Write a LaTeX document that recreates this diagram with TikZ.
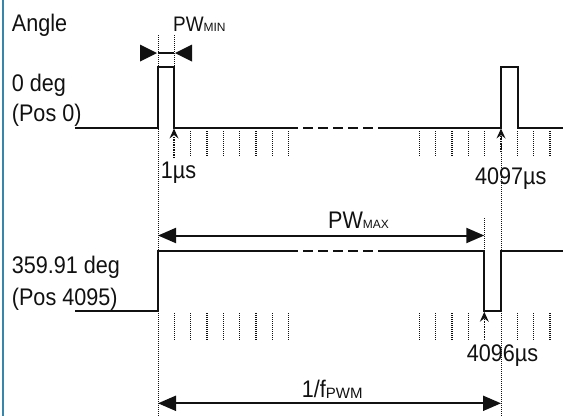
\documentclass[tikz,border=0pt]{standalone}
\usepackage{fontspec}
\setmainfont{Liberation Sans}
\newfontfamily\labfont{Liberation Sans}[FakeStretch=0.9]
\newfontfamily\subfont{Liberation Sans}
\usetikzlibrary{arrows.meta}
\definecolor{blueline}{HTML}{3A86A8}
\definecolor{ink}{HTML}{111111}
\begin{document}
\begin{tikzpicture}[x=1pt,y=-1pt,
  sig/.style={ink,line width=2pt,line join=miter},
  dashsig/.style={ink,line width=2pt,dash pattern=on 10pt off 5pt},
  guide/.style={ink,line width=1pt,dash pattern=on 1pt off 1pt},
  tickline/.style={ink,line width=1.1pt,dash pattern=on 1pt off 1pt},
  lab/.style={anchor=base west,inner sep=0pt,text=ink,font=\labfont\fontsize{24}{24}\selectfont},
  bigarrow/.style={ink,line width=2pt,{Triangle[length=18pt,width=15pt]}-{Triangle[length=18pt,width=15pt]}},
  shaft/.style={ink,line width=1.6pt,dash pattern=on 1.5pt off 1pt}
]
\useasboundingbox (0,0) rectangle (563,416);
% left border line
\draw[blueline,line width=2pt] (3,0) -- (3,416);

% long guide lines
\draw[guide] (158,35) -- (158,416);
\draw[guide] (174,35) -- (174,67);
\draw[guide] (501,137) -- (501,416);
\draw[guide] (484.3,218) -- (484.3,250.5);

% Row 1 signal
\draw[sig] (75,127.7) -- (158,127.7) -- (158,67) -- (174,67) -- (174,127.7) -- (288,127.7);
\draw[dashsig] (288,127.7) -- (386.7,127.7);
\draw[sig] (386.7,127.7) -- (501,127.7) -- (501,67) -- (517.7,67) -- (517.7,127.7) -- (563,127.7);

% Row 2 signal
\draw[sig] (75,311) -- (158,311) -- (158,250.5) -- (288,250.5);
\draw[dashsig] (288,250.5) -- (386.7,250.5);
\draw[sig] (386.7,250.5) -- (484.3,250.5) -- (484.3,311) -- (501,311) -- (501,250.5) -- (563,250.5);

% ticks row 1
\foreach \k in {2,...,8,16,17,18,19,20,22,23,24}
  \draw[tickline] ({158+\k*16.333},131) -- ++(0,26);
% ticks row 2
\foreach \k in {1,...,8,16,17,18,19,22,23,24}
  \draw[tickline] ({158+\k*16.333},313) -- ++(0,27);

% up arrows: dotted shafts and filled heads
\foreach \x/\t/\b in {174/128.5/158, 501/128.5/152, 484.3/311.8/340}{
  \draw[shaft] (\x,\b) -- (\x,\t+7);
  \fill[ink] (\x,\t) -- (\x+4.5,\t+10) -- (\x,\t+6.5) -- (\x-4.5,\t+10) -- cycle;
}

% PW_MIN marker
\draw[ink,line width=1.5pt] (158,53) -- (174,53);
\fill[ink] (140,44.5) -- (157,53) -- (140,61.5) -- cycle;
\fill[ink] (192,44.5) -- (175,53) -- (192,61.5) -- cycle;

% PW_MAX and period arrows
\coordinate (mxa) at (158,235.5);
\coordinate (mxb) at (484.3,235.5);
\draw[bigarrow] (mxa) -- (mxb);
\coordinate (fa) at (158,403.3);
\coordinate (fb) at (501,403.3);
\draw[bigarrow] (fa) -- (fb);

% labels
\node[lab] (angle) at (11.7,31) {Angle};
\node[lab] (deg0) at (11.7,91.7) {0 deg};
\node[lab] (pos0) at (11.7,121.7) {(Pos 0)};
\node[lab] (deg359) at (11.7,273.5) {359.91 deg};
\node[lab] (pos4095) at (11.7,305) {(Pos 4095)};
\node[lab] (t1) at (160.7,178.3) {1µs};
\node[lab] (t4097) at (475,184) {4097µs};
\node[lab] (t4096) at (466.7,361.7) {4096µs};
\node[lab] (pwmin) at (173,31.7) {{\fontsize{21}{21}\selectfont PW}{\subfont\fontsize{12}{12}\selectfont MIN}};
\node[lab] (pwmax) at (328,228.3) {PW{\subfont\fontsize{12}{12}\selectfont MAX}};
\node[lab] (fpwm) at (301.7,397.3) {1/f\raisebox{-1pt}{\subfont\fontsize{15}{15}\selectfont PWM}};
\end{tikzpicture}
\end{document}
